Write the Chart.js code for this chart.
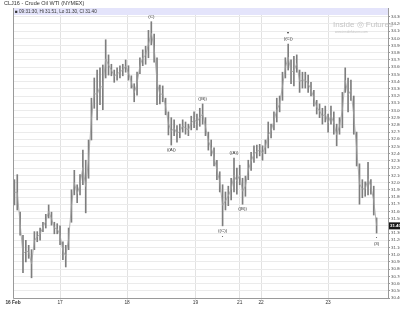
<!DOCTYPE html>
<html>
<head>
<meta charset="utf-8">
<script src="https://cdn.jsdelivr.net/npm/chart.js@4.4.0/dist/chart.umd.min.js"></script>
<style>
  body { margin: 0; background: #fff; }
  #wrap { position: relative; width: 400px; height: 313px; font-family: "Liberation Sans", Arial, sans-serif; }
  #title { position: absolute; left: 4px; top: 0px; font-size: 5.5px; color: #333; white-space: nowrap; }
  #info { position: absolute; left: 15px; top: 8.5px; font-size: 4.6px; color: #333; white-space: nowrap; }
  #logo { position: absolute; left: 333px; top: 13px; color: #c4c4c4; white-space: nowrap; }
  #logo .big { font-size: 8px; }
  #logo .url { font-size: 3.2px; margin-left: 2px; display: block; margin-top: -1px; }
</style>
</head>
<body>
<div id="wrap">
  <canvas id="grafico" width="400" height="313"></canvas>
  <div id="title">CLJ16 - Crude Oil WTI (NYMEX)</div>
  <div id="info">&#9632; 09:31:30, Hi 31.51, Lo 31.30, Cl 31.40</div>
  <div id="logo"><span class="big">Inside &#9678; Futures</span><span class="url">www.insidefutures.com</span></div>
</div>
<script>
const grafico = document.getElementById("grafico")

// hours of trading since the left edge; one bar per hour
let dayTicks = [0, 16.5, 40, 64, 79.5, 87, 110.5]
let dayLabels = ["16 Feb", "17", "18", "19", "21", "22", "23"]
let xMax = 131.5

let highs = [
  32.04, 32.11, 31.59, 31.27, 31.20, 31.13, 31.07, 31.32, 31.32, 31.37,
  31.45, 31.56, 31.69, 31.59, 31.45, 31.43, 31.40, 31.18, 31.13, 31.37,
  31.90, 32.17, 31.97, 32.11, 32.45, 32.31, 32.59, 33.17, 33.45, 33.56,
  33.59, 33.63, 33.98, 33.77, 33.64, 33.56, 33.59, 33.62, 33.64, 33.70,
  33.62, 33.48, 33.37, 33.53, 33.73, 33.84, 33.89, 34.11, 34.23, 34.06,
  33.73, 33.35, 33.34, 33.17, 32.98, 32.90, 32.87, 32.79, 32.81, 32.87,
  32.84, 32.81, 32.92, 32.98, 32.95, 33.03, 33.09, 32.90, 32.70, 32.59,
  32.48, 32.31, 32.15, 31.97, 31.87, 31.95, 32.06, 32.34, 32.20, 32.24,
  32.06, 32.09, 32.31, 32.42, 32.51, 32.52, 32.53, 32.51, 32.59, 32.84,
  32.81, 32.98, 33.17, 33.20, 33.53, 33.73, 33.92, 33.70, 33.75, 33.77,
  33.56, 33.53, 33.53, 33.49, 33.39, 33.28, 33.14, 33.09, 33.03, 33.06,
  32.95, 33.06, 32.98, 32.81, 32.90, 33.25, 33.59, 33.45, 33.42, 33.20,
  32.70, 32.26, 32.04, 32.01, 32.28, 32.04, 31.95, 31.51
]
let lows = [
  31.69, 31.62, 31.27, 30.75, 30.90, 30.95, 30.68, 31.07, 31.18, 31.20,
  31.32, 31.37, 31.51, 31.41, 31.29, 31.29, 31.14, 30.93, 30.83, 31.07,
  31.45, 31.83, 31.72, 31.83, 31.97, 31.58, 32.06, 32.59, 33.03, 32.87,
  33.08, 33.01, 33.45, 33.49, 33.48, 33.39, 33.42, 33.45, 33.48, 33.53,
  33.42, 33.31, 33.12, 33.21, 33.51, 33.62, 33.64, 33.73, 33.91, 33.67,
  33.08, 33.09, 33.12, 32.94, 32.66, 32.52, 32.65, 32.56, 32.62, 32.70,
  32.67, 32.65, 32.73, 32.76, 32.73, 32.78, 32.81, 32.65, 32.45, 32.37,
  32.23, 32.04, 31.87, 31.40, 31.62, 31.68, 31.76, 31.87, 31.84, 31.97,
  31.70, 31.81, 32.04, 32.17, 32.28, 32.34, 32.37, 32.31, 32.40, 32.48,
  32.62, 32.73, 32.84, 32.98, 33.14, 33.45, 33.56, 33.37, 33.34, 33.53,
  33.25, 33.31, 33.31, 33.25, 33.20, 33.06, 32.95, 32.90, 32.81, 32.84,
  32.70, 32.81, 32.67, 32.51, 32.67, 32.76, 33.25, 32.98, 33.14, 32.67,
  32.23, 31.70, 31.79, 31.81, 31.83, 31.84, 31.55, 31.30
]
let lastClose = 31.40
let yMin = 30.40
let yTop = 34.30

// wave labels: bar index, side, lines listed from the bar outwards
let waveLabels = [
  { bar: 48, side: "above", lines: ["(C)"] },
  { bar: 55, side: "below", lines: ["((A))"] },
  { bar: 66, side: "above", lines: ["((B))"] },
  { bar: 73, side: "below", lines: ["((C))", "\u2022"] },
  { bar: 77, side: "above", lines: ["((A))"] },
  { bar: 80, side: "below", lines: ["((B))"] },
  { bar: 96, side: "above", lines: ["((C))", "\u25BE"] },
  { bar: 127, side: "below", lines: ["\u2022", "(3)"] }
]

let barData = highs.map((h, i) => ({ x: i + 0.5, y: [lows[i], h] }))
let midData = highs.map((h, i) => ({ x: i + 0.5, y: (h + lows[i]) / 2 }))

const extras = {
  id: "extras",
  beforeDatasetsDraw(chart) {
    const { ctx, chartArea } = chart
    ctx.save()
    ctx.fillStyle = "#e4e4fb"
    ctx.fillRect(chartArea.left, chartArea.top, chartArea.right - chartArea.left, 7)
    ctx.restore()
  },
  afterDraw(chart) {
    const { ctx, chartArea, scales } = chart
    ctx.save()
    ctx.strokeStyle = "#9a9a9a"
    ctx.lineWidth = 1
    ctx.beginPath()
    ctx.moveTo(chartArea.left + 0.5, chartArea.top)
    ctx.lineTo(chartArea.left + 0.5, chartArea.bottom + 0.5)
    ctx.lineTo(chartArea.right + 0.5, chartArea.bottom + 0.5)
    ctx.lineTo(chartArea.right + 0.5, chartArea.top)
    ctx.stroke()

    ctx.font = "4.4px 'Liberation Sans', Arial, sans-serif"
    ctx.fillStyle = "#333"
    ctx.textAlign = "center"
    ctx.textBaseline = "middle"
    waveLabels.forEach(l => {
      const x = scales.x.getPixelForValue(l.bar + 0.5)
      const base = l.side === "above" ? scales.y.getPixelForValue(highs[l.bar]) : scales.y.getPixelForValue(lows[l.bar])
      l.lines.forEach((t, k) => {
        const off = 5 + k * 6
        ctx.fillText(t, x, l.side === "above" ? base - off : base + off)
      })
    })

    const yy = scales.y.getPixelForValue(lastClose)
    ctx.fillStyle = "#1a1a1a"
    ctx.fillRect(chartArea.right + 1, yy - 3.5, 12, 7)
    ctx.fillStyle = "#fff"
    ctx.textAlign = "left"
    ctx.font = "bold 4.4px 'Liberation Sans', Arial, sans-serif"
    ctx.fillText(lastClose.toFixed(2), chartArea.right + 2, yy + 0.3)
    ctx.restore()
  }
}

new Chart(grafico, {
  type: "bar",
  data: {
    datasets: [{
      type: "line",
      label: "mid",
      data: midData,
      borderColor: "#a0a0a0",
      borderWidth: 0.8,
      pointRadius: 0,
      tension: 0
    }, {
      label: "CLJ16",
      data: barData,
      backgroundColor: "#7e7e7e",
      borderWidth: 0,
      barThickness: 1,
      grouped: false
    }]
  },
  plugins: [extras],
  options: {
    responsive: false,
    animation: false,
    layout: { padding: { left: 13, top: 8, right: 0, bottom: 0 } },
    plugins: { legend: { display: false }, tooltip: { enabled: false } },
    scales: {
      x: {
        type: "linear",
        offset: false,
        min: 0,
        max: xMax,
        afterBuildTicks: axis => { axis.ticks = dayTicks.map(v => ({ value: v })) },
        afterFit: axis => { axis.height = 15 },
        grid: { color: "#e2e2e2", drawTicks: true, tickLength: 2, offset: false },
        border: { display: false },
        ticks: {
          autoSkip: false,
          maxRotation: 0,
          padding: 0,
          color: "#333",
          font: ctx => ({ size: 4.8, family: "'Liberation Sans', Arial, sans-serif", weight: ctx.index === 0 ? "bold" : "normal" }),
          callback: (v, i) => dayLabels[i]
        }
      },
      y: {
        position: "right",
        min: yMin,
        max: 34.42,
        afterBuildTicks: axis => {
          const t = []
          for (let v = yMin; v <= yTop + 0.001; v += 0.1) t.push({ value: Math.round(v * 100) / 100 })
          axis.ticks = t
        },
        afterFit: axis => { axis.width = 12 },
        grid: { color: "#ebebeb", tickLength: 2, tickColor: "#999" },
        border: { display: false },
        ticks: {
          autoSkip: false,
          padding: 1,
          color: "#555",
          font: { size: 4.4, family: "'Liberation Sans', Arial, sans-serif" },
          callback: v => v.toFixed(2)
        }
      }
    }
  }
});
</script>
</body>
</html>
